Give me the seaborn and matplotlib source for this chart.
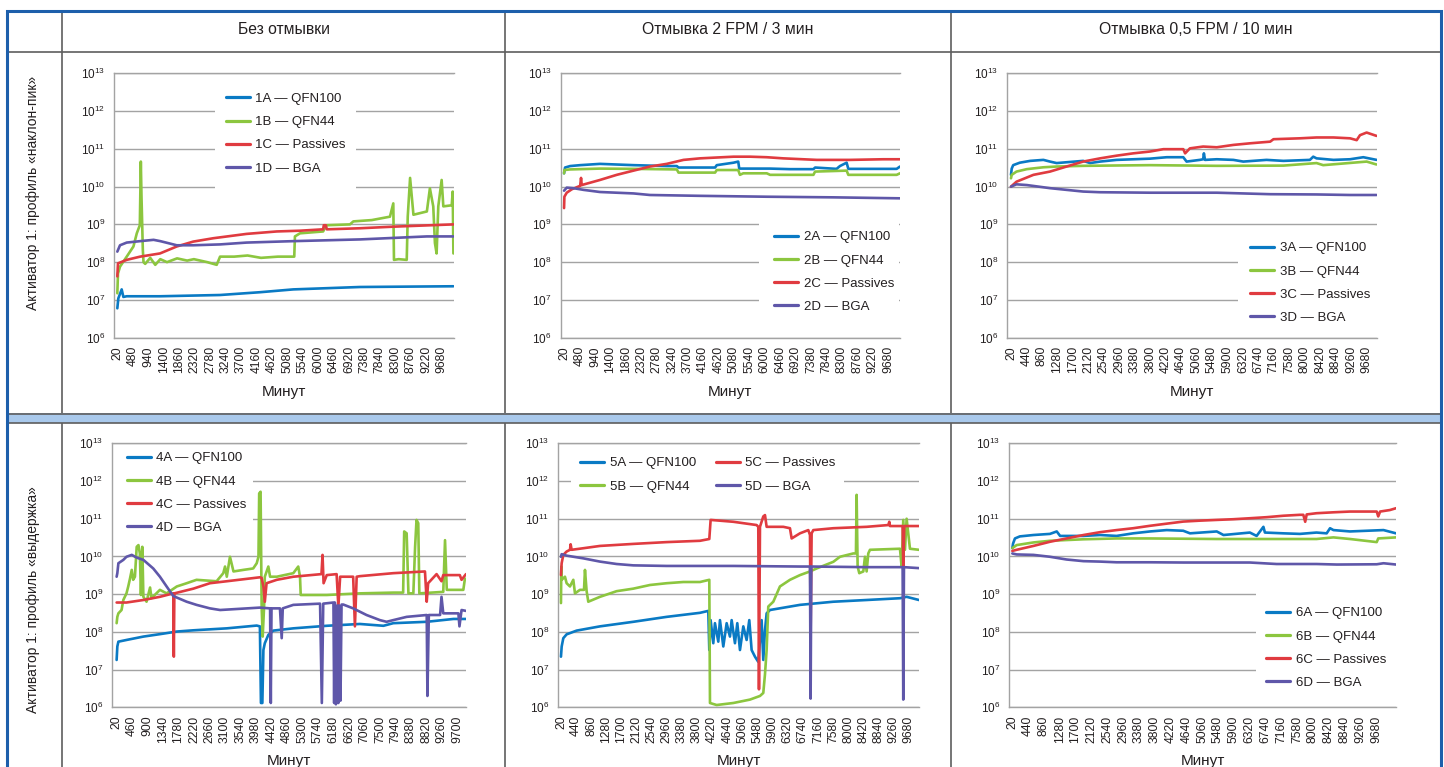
import matplotlib
matplotlib.use("Agg")
import matplotlib.pyplot as plt
import pandas as pd
import seaborn as sns
from matplotlib.lines import Line2D
from matplotlib.patches import Rectangle
from matplotlib.ticker import NullLocator

# ------------------------------------------------------------------ data
col_titles = ["Без отмывки", "Отмывка 2 FPM / 3 мин", "Отмывка 0,5 FPM / 10 мин"]
row_titles = ["Активатор 1: профиль «наклон-пик»", "Активатор 1: профиль «выдержка»"]
x_label = "Минут"
component_names = ["QFN100", "QFN44", "Passives", "BGA"]
series_letters = ["A", "B", "C", "D"]
y_tick_values = [1e6, 1e7, 1e8, 1e9, 1e10, 1e11, 1e12, 1e13]
y_tick_labels = [r"$10^{6}$", r"$10^{7}$", r"$10^{8}$", r"$10^{9}$",
                 r"$10^{10}$", r"$10^{11}$", r"$10^{12}$", r"$10^{13}$"]

ticks_460 = [20, 480, 940, 1400, 1860, 2320, 2780, 3240, 3700, 4160, 4620, 5080,
             5540, 6000, 6460, 6920, 7380, 7840, 8300, 8760, 9220, 9680]
ticks_420 = [20, 440, 860, 1280, 1700, 2120, 2540, 2960, 3380, 3800, 4220, 4640,
             5060, 5480, 5900, 6320, 6740, 7160, 7580, 8000, 8420, 8840, 9260, 9680]
ticks_440 = [20, 460, 900, 1340, 1780, 2220, 2660, 3100, 3540, 3980, 4420, 4860,
             5300, 5740, 6180, 6620, 7060, 7500, 7940, 8380, 8820, 9260, 9700]

# panel 1
p1_xA = [20, 50, 150, 200, 300, 1290, 3080, 4270, 5260, 7250, 10030]
p1_A = [6.0e6, 1.1e7, 1.9e7, 1.2e7, 1.25e7, 1.25e7, 1.35e7, 1.6e7, 1.9e7, 2.2e7, 2.3e7]
p1_xB = [20, 40, 100, 300, 500, 600, 690, 720, 740, 780, 800, 850, 1000, 1150, 1300, 1500,
         1800, 2100, 2300, 2700, 2980, 3080, 3500, 3900, 4300, 4800, 5290, 5310, 5460, 6150,
         6250, 6950, 7050, 7600, 8140, 8240, 8260, 8400, 8640, 8670, 8740, 8840, 9240, 9330,
         9430, 9480, 9530, 9580, 9680, 9730, 9980, 10010, 10030]
p1_B = [1.5e7, 5e7, 7.6e7, 1.4e8, 2.6e8, 5.8e8, 9.5e8, 4.6e10, 5.4e9, 2.1e8, 1.0e8, 9e7,
        1.3e8, 8.5e7, 1.2e8, 1.0e8, 1.26e8, 1.1e8, 1.2e8, 1.0e8, 8.5e7, 1.4e8, 1.4e8, 1.5e8,
        1.3e8, 1.4e8, 1.4e8, 4.8e8, 5.8e8, 6.5e8, 9.5e8, 1.0e9, 1.2e9, 1.3e9, 1.6e9, 3.6e9,
        1.15e8, 1.2e8, 1.15e8, 1.6e9, 1.7e10, 1.8e9, 2.2e9, 9e9, 3e9, 3.2e8, 1.7e8, 3e9,
        1.5e10, 3e9, 3.2e9, 7.4e9, 1.7e8]
p1_xC = [20, 40, 300, 700, 1290, 1790, 2280, 2880, 3870, 4770, 5460, 6150, 6170, 6230, 6260,
         7250, 8240, 10030]
p1_C = [4.2e7, 9.3e7, 1.15e8, 1.4e8, 1.7e8, 2.6e8, 3.5e8, 4.3e8, 5.6e8, 6.5e8, 6.8e8, 7.4e8,
        9.5e8, 9.5e8, 7.4e8, 7.9e8, 8.7e8, 1.0e9]
p1_xD = [20, 100, 300, 700, 1100, 1300, 1790, 2280, 3080, 3870, 5260, 7250, 9240, 10030]
p1_D = [1.9e8, 2.8e8, 3.3e8, 3.6e8, 3.9e8, 3.6e8, 2.8e8, 2.8e8, 2.95e8, 3.3e8, 3.6e8, 4.0e8,
        4.8e8, 4.8e8]

# panel 2
p2_xA = [20, 50, 200, 500, 1090, 2090, 3080, 3380, 3430, 4520, 4570, 5070, 5210, 5240, 6160,
         6750, 7450, 7500, 8140, 8240, 8440, 8490, 9930, 10030]
p2_A = [2.25e10, 3.2e10, 3.5e10, 3.7e10, 4.0e10, 3.7e10, 3.5e10, 3.5e10, 3.2e10, 3.2e10,
        3.7e10, 4.3e10, 4.6e10, 3.0e10, 3.0e10, 2.9e10, 2.9e10, 3.2e10, 2.95e10, 3.5e10,
        4.3e10, 2.95e10, 2.95e10, 3.4e10]
p2_xB = [20, 30, 200, 1090, 2090, 3380, 3430, 4520, 4570, 5210, 5260, 5360, 6060, 6160, 7450,
         7500, 8440, 8490, 9930, 10030]
p2_B = [2.25e10, 2.75e10, 2.85e10, 3.0e10, 2.95e10, 2.85e10, 2.35e10, 2.35e10, 2.75e10,
        2.75e10, 2.05e10, 2.25e10, 2.25e10, 2.05e10, 2.05e10, 2.5e10, 2.65e10, 2.05e10,
        2.05e10, 2.25e10]
p2_xC = [20, 30, 100, 250, 500, 526, 546, 1090, 1590, 2090, 2580, 3080, 3580, 4070, 5070, 5560,
         6060, 6550, 7550, 8540, 9530, 10030]
p2_C = [2.7e9, 5.4e9, 6.9e9, 8.5e9, 1.05e10, 1.7e10, 1.1e10, 1.5e10, 2.05e10, 2.65e10, 3.4e10,
        4.0e10, 5.1e10, 5.6e10, 6.2e10, 6.2e10, 6.0e10, 5.6e10, 5.1e10, 5.1e10, 5.3e10, 5.3e10]
p2_xD = [20, 100, 300, 600, 1090, 2090, 2580, 4070, 6060, 8040, 10030]
p2_D = [7.8e9, 9.4e9, 9.1e9, 8.2e9, 7.2e9, 6.6e9, 6.0e9, 5.7e9, 5.4e9, 5.2e9, 4.9e9]

# panel 3
p3_xA = [20, 40, 80, 260, 540, 900, 1080, 1260, 1980, 2170, 2440, 2890, 3800, 4250, 4700, 4790,
         5150, 5240, 5260, 5290, 5610, 6060, 6330, 6960, 7420, 8140, 8230, 8320, 8780, 9230,
         9590, 9950]
p3_A = [2.05e10, 3.0e10, 3.7e10, 4.3e10, 4.8e10, 5.1e10, 4.6e10, 4.2e10, 4.8e10, 4.2e10,
        4.6e10, 5.1e10, 5.5e10, 6.0e10, 6.0e10, 4.6e10, 5.1e10, 5.3e10, 7.6e10, 5.1e10,
        5.3e10, 5.1e10, 4.6e10, 5.1e10, 4.8e10, 5.1e10, 6.2e10, 5.6e10, 5.1e10, 5.3e10,
        6.0e10, 5.1e10]
p3_xB = [20, 40, 170, 450, 900, 1260, 1980, 3800, 5610, 7420, 8320, 8500, 9680, 9950]
p3_B = [1.66e10, 2.05e10, 2.5e10, 2.9e10, 3.25e10, 3.4e10, 3.55e10, 3.7e10, 3.55e10, 3.6e10,
        4.2e10, 3.7e10, 4.6e10, 3.85e10]
p3_xC = [20, 170, 630, 1080, 1530, 1980, 2440, 2890, 3340, 3800, 4160, 4700, 4750, 4880, 5240,
         5610, 6060, 6510, 7060, 7150, 7870, 8320, 8780, 9230, 9410, 9500, 9680, 9950]
p3_C = [1.0e10, 1.35e10, 2.05e10, 2.5e10, 3.4e10, 4.6e10, 5.6e10, 6.6e10, 7.6e10, 8.5e10,
        9.8e10, 9.8e10, 7.6e10, 1.03e11, 1.15e11, 1.1e11, 1.27e11, 1.4e11, 1.55e11, 1.8e11,
        1.9e11, 2.0e11, 2.0e11, 1.9e11, 1.7e11, 2.3e11, 2.7e11, 2.2e11]
p3_xD = [20, 170, 450, 1080, 1530, 1980, 2440, 3800, 5610, 7060, 8320, 9230, 9950]
p3_D = [1.0e10, 1.15e10, 1.1e10, 9.1e9, 8.2e9, 7.4e9, 7.1e9, 6.9e9, 6.9e9, 6.3e9, 6.2e9,
        6.0e9, 6.0e9]

# panel 4
p4_xA = [20, 40, 70, 300, 780, 1250, 1730, 2200, 3150, 4000, 4090, 4120, 4160, 4190, 4230,
         4330, 4470, 5040, 5990, 6930, 7600, 7880, 8830, 9590, 9945]
p4_A = [1.8e7, 4.1e7, 5.5e7, 6.1e7, 7.5e7, 8.7e7, 1.02e8, 1.1e8, 1.24e8, 1.47e8, 1.4e8, 1.3e6,
        1.3e6, 3.3e7, 5e7, 8.3e7, 1.08e8, 1.24e8, 1.45e8, 1.62e8, 1.45e8, 1.7e8, 1.85e8,
        2.2e8, 2.2e8]
p4_xB = [20, 40, 70, 160, 210, 300, 350, 400, 450, 490, 540, 590, 640, 680, 710, 750, 780, 870,
         970, 1010, 1250, 1440, 1730, 2010, 2290, 2860, 3050, 3100, 3150, 3240, 3340, 3620,
         3900, 4000, 4050, 4070, 4110, 4140, 4170, 4210, 4230, 4330, 4380, 4570, 5040, 5180,
         5230, 5250, 5420, 5990, 6930, 7880, 8160, 8190, 8260, 8310, 8450, 8500, 8540, 8590,
         8620, 9300, 9350, 9400, 9870, 9916]
p4_B = [1.7e8, 2.5e8, 3.1e8, 3.8e8, 7e8, 1.05e9, 1.6e9, 2.6e9, 4.4e9, 2.4e9, 2.9e9, 1.8e10,
        2e10, 1.2e10, 9.5e8, 1.8e10, 8.5e8, 6.3e8, 1.5e9, 7.8e8, 1.3e9, 1.05e9, 1.6e9, 1.95e9,
        2.4e9, 2.2e9, 3.6e9, 5.4e9, 2.9e9, 9.8e9, 4e9, 4.4e9, 4.8e9, 6.6e9, 9.8e9, 4.7e11,
        5.2e11, 4.7e8, 7.5e7, 4.7e8, 2.9e9, 5.4e9, 2.9e9, 2.9e9, 3.6e9, 5.4e9, 2.9e9, 9.5e8,
        9.5e8, 9.5e8, 1.05e9, 1.1e9, 1.1e9, 4.6e10, 4.1e10, 1.05e9, 1.05e9, 1.8e10, 9.3e10,
        7.6e10, 1.05e9, 1.15e9, 2.7e10, 1.3e9, 1.3e9, 2.6e9]
p4_xC = [20, 300, 780, 1250, 1630, 1645, 1660, 2200, 2670, 3150, 4090, 4140, 4190, 4230, 4280,
         4570, 5040, 5840, 5870, 5900, 5990, 6270, 6320, 6370, 6740, 6790, 6840, 6930, 7880,
         8780, 8830, 8870, 9110, 9250, 9300, 9770, 9820, 9945]
p4_C = [6e8, 6e8, 7e8, 8.5e8, 1.05e9, 2.2e7, 1.05e9, 1.4e9, 1.95e9, 2.2e9, 2.8e9, 2.7e9, 1.6e9,
        6.3e8, 1.95e9, 2.4e9, 2.9e9, 3.4e9, 1.1e10, 1.95e9, 3.2e9, 3.4e9, 4.7e8, 2.9e9, 2.9e9,
        1.4e8, 2.9e9, 3e9, 3.6e9, 4e9, 6.3e8, 1.95e9, 3.4e9, 2.2e9, 3.2e9, 3.2e9, 2.4e9, 3.4e9]
p4_xD = [20, 40, 70, 210, 300, 450, 590, 780, 1060, 1250, 1440, 1630, 2010, 2290, 2670, 2960,
         4090, 4380, 4400, 4420, 4660, 4710, 4740, 5040, 5800, 5850, 5890, 6180, 6200, 6220,
         6250, 6290, 6320, 6340, 6380, 6410, 6460, 6740, 7120, 7500, 7690, 7880, 8260, 8830,
         8850, 8890, 9210, 9250, 9300, 9730, 9760, 9820, 9945]
p4_D = [2.9e9, 3.6e9, 6.6e9, 8.1e9, 9.8e9, 1.1e10, 9.3e9, 8.1e9, 4.8e9, 2.9e9, 1.6e9, 8.9e8,
        6.3e8, 5.2e8, 4.2e8, 3.8e8, 4.4e8, 4.2e8, 1.3e6, 4.2e8, 4.2e8, 6.8e7, 4.2e8, 5.2e8,
        5.6e8, 1.3e6, 5.6e8, 6e8, 1.3e6, 6e8, 1.2e6, 5e8, 1.3e6, 5e8, 1.5e6, 5.3e8, 5.3e8,
        4.2e8, 2.8e8, 2.05e8, 1.85e8, 2.05e8, 2.5e8, 2.8e8, 2e6, 2.8e8, 2.8e8, 8.5e8, 3.1e8,
        3.1e8, 1.4e8, 3.8e8, 3.6e8]

# panel 5
p5_xA = [20, 40, 85, 177, 455, 1104, 2030, 2956, 3882, 4113, 4141, 4178, 4252, 4298, 4391,
         4437, 4530, 4623, 4715, 4762, 4854, 4919, 4993, 5086, 5178, 5252, 5317, 5410, 5502,
         5595, 5641, 5688, 5734, 5827, 6660, 7586, 8512, 9438, 9623, 9966]
p5_A = [2.2e7, 4.1e7, 6.8e7, 8.6e7, 1.08e8, 1.4e8, 1.85e8, 2.5e8, 3.2e8, 3.6e8, 3.3e7, 2.05e8,
        5e7, 1.7e8, 5.5e7, 2.05e8, 4.1e7, 1.7e8, 7.5e7, 2.05e8, 5e7, 1.7e8, 3.3e7, 1.4e8,
        6.1e7, 2.05e8, 3.3e7, 2.2e7, 1.6e7, 2.05e8, 1.8e7, 1.1e8, 3.1e8, 3.8e8, 5.2e8, 6.3e8,
        7e8, 7.8e8, 8.5e8, 7e8]
p5_xB = [20, 30, 39, 131, 177, 270, 363, 409, 548, 660, 687, 733, 779, 1104, 1567, 2030, 2493,
         2956, 3419, 3882, 4141, 4160, 4345, 4808, 5271, 5549, 5641, 5688, 5734, 5780, 5919,
         6104, 6382, 6660, 6938, 7123, 7586, 7771, 8141, 8215, 8234, 8262, 8308, 8420, 8466,
         8512, 8558, 8605, 9438, 9484, 9530, 9577, 9623, 9716, 9966]
p5_B = [5.8e8, 5.4e9, 2.4e9, 2.9e9, 1.95e9, 1.6e9, 2.4e9, 1.05e9, 1.3e9, 1.3e9, 4.4e9, 1.2e9,
        6.3e8, 8.5e8, 1.2e9, 1.4e9, 1.75e9, 1.95e9, 2.1e9, 2.1e9, 2.4e9, 1.3e6, 1.15e6, 1.3e6,
        1.6e6, 2e6, 2.4e6, 7.5e6, 3.3e7, 4.7e8, 6.3e8, 1.6e9, 2.4e9, 3.2e9, 4e9, 4.8e9, 7.2e9,
        9.8e9, 1.2e10, 1.2e10, 4.3e11, 5.4e9, 3.6e9, 4e9, 9.8e9, 4e9, 1.2e10, 1.5e10, 1.6e10,
        5.4e9, 9.3e10, 1.5e10, 1e11, 1.6e10, 1.5e10]
p5_xC = [20, 39, 85, 177, 270, 289, 316, 640, 1104, 2030, 2956, 3882, 4141, 4178, 4808, 5456,
         5502, 5521, 5549, 5641, 5688, 5734, 6197, 6382, 6429, 6660, 6892, 6938, 6956, 6984,
         7031, 7586, 8512, 9114, 9142, 9160, 9512, 9530, 9558, 9966]
p5_C = [3.2e9, 6.6e9, 1.1e10, 1.35e10, 1.5e10, 2.1e10, 1.5e10, 1.65e10, 1.9e10, 2.15e10,
        2.4e10, 2.6e10, 2.9e10, 9.3e10, 8.3e10, 6.8e10, 6.1e10, 3e6, 6.1e10, 1.15e11, 1.25e11,
        6.1e10, 6.1e10, 5.6e10, 3e10, 4.1e10, 5e10, 3.7e10, 9.2e7, 4.1e10, 5e10, 5.6e10,
        6.1e10, 6.8e10, 8.3e10, 6.4e10, 6.4e10, 5.4e9, 6.4e10, 6.4e10]
p5_xD = [20, 39, 177, 640, 1104, 1567, 2030, 2956, 4808, 6660, 6938, 6956, 6975, 8512, 9512,
         9530, 9549, 9966]
p5_D = [9.8e9, 1.15e10, 1.05e10, 8.9e9, 7.3e9, 6.3e9, 5.8e9, 5.6e9, 5.6e9, 5.4e9, 5.4e9, 1.7e6,
        5.4e9, 5.2e9, 5.2e9, 1.6e6, 5.2e9, 4.9e9]

# panel 6
p6_xA = [20, 40, 90, 220, 580, 1020, 1200, 1290, 1910, 2350, 2790, 3230, 3680, 4120, 4560,
         4740, 5450, 5630, 6330, 6510, 6690, 6730, 7220, 7660, 8100, 8370, 8460, 8550, 8990,
         9880, 10212]
p6_A = [1.66e10, 2.2e10, 3.0e10, 3.4e10, 3.7e10, 3.96e10, 4.6e10, 3.5e10, 3.5e10, 3.7e10,
        3.5e10, 4.1e10, 4.6e10, 5e10, 4.8e10, 4.1e10, 4.6e10, 3.7e10, 4.3e10, 3.5e10, 6.1e10,
        4.3e10, 4.1e10, 3.96e10, 4.3e10, 4.1e10, 5.6e10, 5e10, 4.6e10, 5e10, 4.1e10]
p6_xB = [20, 135, 580, 1020, 1910, 2790, 3680, 5450, 7220, 8100, 8550, 8990, 9700, 9740, 10212]
p6_B = [1.66e10, 2e10, 2.35e10, 2.6e10, 2.85e10, 3.0e10, 3.0e10, 2.9e10, 2.9e10, 2.9e10,
        3.2e10, 2.9e10, 2.4e10, 3.0e10, 3.2e10]
p6_xC = [20, 135, 580, 1020, 1460, 1910, 2350, 2790, 3230, 3680, 4120, 4560, 5010, 5450, 5890,
         6330, 6780, 7220, 7660, 7750, 7800, 7840, 8100, 8550, 8990, 9700, 9740, 9790, 10050,
         10212]
p6_C = [1.4e10, 1.5e10, 1.9e10, 2.45e10, 3e10, 3.7e10, 4.4e10, 5e10, 5.6e10, 6.5e10, 7.4e10,
        8.4e10, 8.9e10, 9.3e10, 9.7e10, 1.03e11, 1.1e11, 1.2e11, 1.27e11, 1.27e11, 8.3e10,
        1.3e11, 1.4e11, 1.48e11, 1.55e11, 1.55e11, 1.15e11, 1.55e11, 1.7e11, 1.9e11]
p6_xD = [20, 135, 580, 1020, 1460, 1910, 2350, 2790, 3680, 4560, 6330, 7040, 8100, 8640, 9700,
         9880, 10212]
p6_D = [1.2e10, 1.13e10, 1.1e10, 9.8e9, 8.3e9, 7.5e9, 7.3e9, 7e9, 7e9, 6.9e9, 6.9e9, 6.3e9,
        6.3e9, 6.1e9, 6.2e9, 6.6e9, 6.1e9]

panel_data = {
    1: [(p1_xA, p1_A), (p1_xB, p1_B), (p1_xC, p1_C), (p1_xD, p1_D)],
    2: [(p2_xA, p2_A), (p2_xB, p2_B), (p2_xC, p2_C), (p2_xD, p2_D)],
    3: [(p3_xA, p3_A), (p3_xB, p3_B), (p3_xC, p3_C), (p3_xD, p3_D)],
    4: [(p4_xA, p4_A), (p4_xB, p4_B), (p4_xC, p4_C), (p4_xD, p4_D)],
    5: [(p5_xA, p5_A), (p5_xB, p5_B), (p5_xC, p5_C), (p5_xD, p5_D)],
    6: [(p6_xA, p6_A), (p6_xB, p6_B), (p6_xC, p6_C), (p6_xD, p6_D)],
}

# ------------------------------------------------------------------ style
sns.set_theme(style="white")
plt.rcParams["font.family"] = ["Liberation Sans", "DejaVu Sans"]
plt.rcParams["mathtext.fontset"] = "custom"
plt.rcParams["mathtext.rm"] = "Liberation Sans"
plt.rcParams["mathtext.it"] = "Liberation Sans"
plt.rcParams["mathtext.default"] = "rm"

series_colors = ["#0a7ac4", "#8cc63f", "#e03b40", "#5f57a9"]
text_color = "#231f20"
grid_color = "#a3a3a3"
frame_gray = "#5e5e5e"
border_blue = "#1d5fab"
band_blue = "#a9c9ec"

W, H = 1444, 767
fig = plt.figure(figsize=(W / 100, H / 100), dpi=100)
fig.patch.set_facecolor("white")


def fx(px):
    return px / W


def fy(py):
    return 1 - py / H


# panel layout (pixels): box = left, top, right, bottom
layout = {
    1: dict(box=(114.3, 73.3, 454.0, 337.7), xlim=(-70, 10048), ticks=ticks_460,
            white=(215, 80, 356, 196), leg=(225.7, 97.3), ncol=1),
    2: dict(box=(560.7, 73.3, 900.0, 337.7), xlim=(-80, 10030), ticks=ticks_460,
            white=(759, 218, 899, 320), leg=(774.0, 235.7), ncol=1),
    3: dict(box=(1007.3, 73.3, 1377.3, 337.7), xlim=(-80, 9970), ticks=ticks_420,
            white=(1238, 234, 1377, 328), leg=(1250.0, 246.7), ncol=1),
    4: dict(box=(112.3, 443.3, 466.0, 707.3), xlim=(-103, 9946), ticks=ticks_440,
            white=(112.5, 446, 253, 532), leg=(126.7, 456.7), ncol=1),
    5: dict(box=(558.3, 443.3, 919.0, 707.3), xlim=(-54, 9967), ticks=ticks_420,
            white=(571, 446, 844, 505), leg=(580.0, 461.7), ncol=2),
    6: dict(box=(1009.3, 443.3, 1396.0, 707.3), xlim=(-60, 10212), ticks=ticks_420,
            white=(1256, 588, 1396, 700), leg=(1266.0, 611.7), ncol=1),
}

for key, spec in layout.items():
    l, t, r, b = spec["box"]
    ax = fig.add_axes([fx(l), fy(b), (r - l) / W, (b - t) / H])
    ax.set_facecolor("white")
    labels = [f"{key}{s} — {n}" for s, n in zip(series_letters, component_names)]
    frames = []
    for lab, (xs, ys) in zip(labels, panel_data[key]):
        frames.append(pd.DataFrame({"x": xs, "y": ys, "series": lab}))
    df = pd.concat(frames, ignore_index=True)
    sns.lineplot(data=df, x="x", y="y", hue="series", hue_order=labels,
                 palette=series_colors, estimator=None, sort=False, legend=False,
                 linewidth=1.9, ax=ax, zorder=3)
    ax.set_yscale("log")
    ax.set_ylim(1e6, 1e13)
    ax.set_xlim(*spec["xlim"])
    ax.set_yticks(y_tick_values)
    ax.set_yticklabels(y_tick_labels)
    ax.yaxis.set_minor_locator(NullLocator())
    ax.set_xticks(spec["ticks"])
    ax.set_xticklabels([str(v) for v in spec["ticks"]], rotation=90)
    ax.set_xlabel("")
    ax.set_ylabel("")
    ax.set_axisbelow(True)
    ax.grid(axis="y", color=grid_color, linewidth=1.0)
    ax.grid(axis="x", visible=False)
    ax.spines["right"].set_visible(False)
    for side in ["left", "bottom", "top"]:
        ax.spines[side].set_color(grid_color)
        ax.spines[side].set_linewidth(1.0)
    ax.tick_params(axis="y", length=0, labelsize=8.5, colors=text_color, pad=6.5)
    ax.tick_params(axis="x", length=0, labelsize=8.7, colors=text_color, pad=6)

    # white box behind legend (hides grid lines)
    wl, wt, wr, wb = spec["white"]
    ax.add_patch(Rectangle((fx(wl), fy(wb)), (wr - wl) / W, (wb - wt) / H,
                           transform=fig.transFigure, facecolor="white",
                           edgecolor="none", zorder=1))
    handles = [Line2D([0], [0], color=c, linewidth=2.3) for c in series_colors]
    hx, hy = spec["leg"]
    leg = ax.legend(handles, labels, loc="upper left",
                    bbox_to_anchor=(fx(hx), fy(hy - 4.5)), bbox_transform=fig.transFigure,
                    frameon=False, fontsize=9.5, handlelength=1.85, handletextpad=0.4,
                    labelspacing=0.83, borderpad=0, borderaxespad=0, ncol=spec["ncol"],
                    columnspacing=1.5)
    for txt in leg.get_texts():
        txt.set_color(text_color)
    leg.set_zorder(5)

    # x axis title
    fig.text(fx((l + r) / 2), fy(b + 54), x_label, ha="center", va="center",
             fontsize=11, color=text_color)

# ------------------------------------------------------------------ table frame
col_centers = [283.5, 727.5, 1195.5]
for cx, title in zip(col_centers, col_titles):
    fig.text(fx(cx), fy(30), title, ha="center", va="center", fontsize=11.3, color=text_color)

row_centers = [193, 600]
for cy, title in zip(row_centers, row_titles):
    fig.text(fx(33), fy(cy), title, ha="center", va="center", rotation=90,
             fontsize=10, color=text_color)

gray_kw = dict(color=frame_gray, linewidth=1.2, transform=fig.transFigure)
fig.add_artist(Line2D([fx(8), fx(1440)], [fy(52), fy(52)], **gray_kw))
for vx in [62, 505, 950.5]:
    fig.add_artist(Line2D([fx(vx), fx(vx)], [fy(11), fy(767)], **gray_kw))
# separator band between the two rows
fig.add_artist(Rectangle((fx(8), fy(422.7)), (1440 - 8) / W, 9.4 / H,
                         transform=fig.transFigure, facecolor=band_blue,
                         edgecolor="none", zorder=4))
fig.add_artist(Line2D([fx(8), fx(1440)], [fy(413.5), fy(413.5)], zorder=5, **gray_kw))
fig.add_artist(Line2D([fx(8), fx(1440)], [fy(422.5), fy(422.5)], zorder=5, **gray_kw))
# outer blue border
fig.add_artist(Line2D([fx(7.3), fx(7.3), fx(1441), fx(1441)],
                      [fy(767), fy(10.5), fy(10.5), fy(767)],
                      color=border_blue, linewidth=2.2, transform=fig.transFigure,
                      zorder=6, solid_joinstyle="miter"))

fig.savefig("out.png", dpi=100, facecolor="white")
